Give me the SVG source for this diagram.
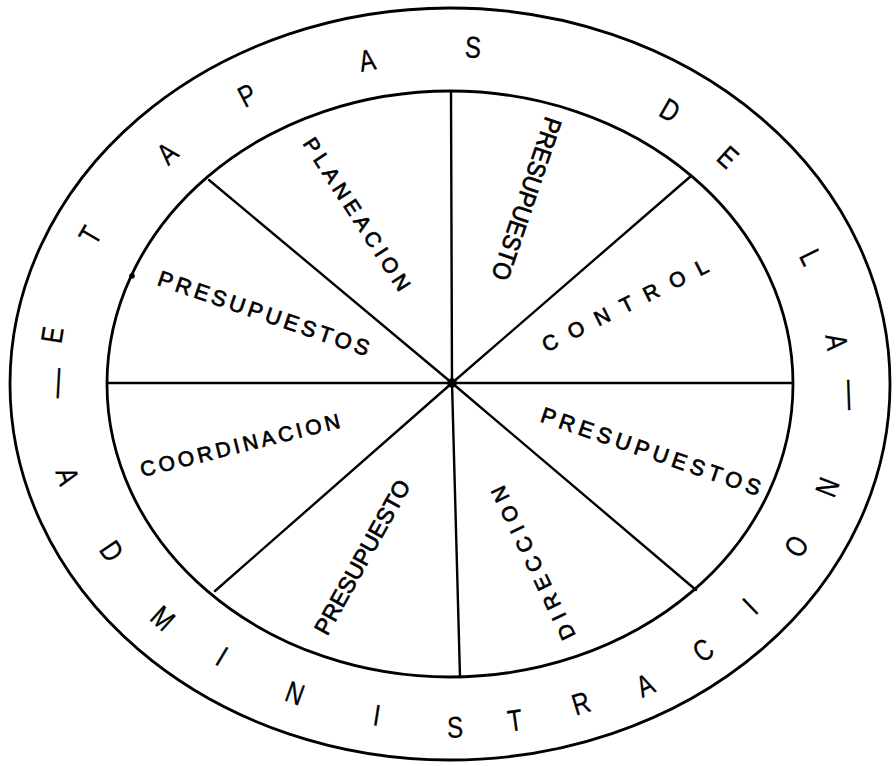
<svg xmlns="http://www.w3.org/2000/svg" width="896" height="766" viewBox="0 0 896 766">
<style>
  .ring { fill: none; stroke: #000; stroke-width: 2.8; }
  .spoke { stroke: #000; stroke-width: 2.4; stroke-linecap: round; }
  .o { font-family: "Liberation Sans", Arial, sans-serif; font-size: 30px; fill: #000; stroke: #000; stroke-width: 0.3; text-anchor: middle; }
  .l { font-family: "Liberation Sans", Arial, sans-serif; fill: #000; stroke: #000; stroke-width: 0.7; text-anchor: middle; }
</style>
<rect width="896" height="766" fill="#fff"/>
<g id="rings">
  <ellipse class="ring" cx="450" cy="384" rx="440" ry="376"/>
  <ellipse class="ring" cx="450" cy="384" rx="343" ry="293"/>
  <circle cx="132" cy="276" r="2.8" fill="#000"/>
</g>
<g id="connectors">
  <line class="spoke" x1="452" y1="383" x2="451" y2="91"/>
  <line class="spoke" x1="452" y1="383" x2="460" y2="677"/>
  <line class="spoke" x1="452" y1="383" x2="107" y2="383"/>
  <line class="spoke" x1="452" y1="383" x2="793" y2="383"/>
  <line class="spoke" x1="452" y1="383" x2="209" y2="180"/>
  <line class="spoke" x1="452" y1="383" x2="691" y2="176"/>
  <line class="spoke" x1="452" y1="383" x2="215" y2="591"/>
  <line class="spoke" x1="452" y1="383" x2="696" y2="590"/>
  <circle cx="452" cy="383" r="4.8" fill="#000"/>
</g>
<g id="outer-title">
  <g transform="translate(57,383) rotate(-87)"><text class="o" font-size="34" y="9">—</text></g>
  <g transform="translate(52,335) rotate(-81) scale(0.8,1)"><text class="o" y="10.7">E</text></g>
  <g transform="translate(90,235) rotate(-60) scale(0.8,1)"><text class="o" y="10.7">T</text></g>
  <g transform="translate(167,153) rotate(-42) scale(0.8,1)"><text class="o" y="10.7">A</text></g>
  <g transform="translate(247,95) rotate(-27) scale(0.8,1)"><text class="o" y="10.7">P</text></g>
  <g transform="translate(367,60) rotate(-11) scale(0.8,1)"><text class="o" y="10.7">A</text></g>
  <g transform="translate(473,47) rotate(3) scale(0.8,1)"><text class="o" y="10.7">S</text></g>
  <g transform="translate(670,110) rotate(30) scale(0.8,1)"><text class="o" y="10.7">D</text></g>
  <g transform="translate(728,157) rotate(42) scale(0.8,1)"><text class="o" y="10.7">E</text></g>
  <g transform="translate(811,257) rotate(64) scale(0.8,1)"><text class="o" y="10.7">L</text></g>
  <g transform="translate(837,342) rotate(82) scale(0.8,1)"><text class="o" y="10.7">A</text></g>
  <g transform="translate(848,395) rotate(88)"><text class="o" font-size="26" y="7">—</text></g>
  <g transform="translate(68,476) rotate(72) scale(0.8,1)"><text class="o" y="10.7">A</text></g>
  <g transform="translate(112,551) rotate(56) scale(0.8,1)"><text class="o" y="10.7">D</text></g>
  <g transform="translate(163,618) rotate(42) scale(0.8,1)"><text class="o" y="10.7">M</text></g>
  <g transform="translate(222,656) rotate(31) scale(0.8,1)"><text class="o" y="10.7">I</text></g>
  <g transform="translate(295,693) rotate(20) scale(0.8,1)"><text class="o" y="10.7">N</text></g>
  <g transform="translate(377,715) rotate(9) scale(0.8,1)"><text class="o" y="10.7">I</text></g>
  <g transform="translate(455,727) rotate(-1) scale(0.8,1)"><text class="o" y="10.7">S</text></g>
  <g transform="translate(515,720) rotate(-8) scale(0.8,1)"><text class="o" y="10.7">T</text></g>
  <g transform="translate(581,703) rotate(-17) scale(0.8,1)"><text class="o" y="10.7">R</text></g>
  <g transform="translate(645,685) rotate(-25) scale(0.8,1)"><text class="o" y="10.7">A</text></g>
  <g transform="translate(703,650) rotate(-35) scale(0.8,1)"><text class="o" y="10.7">C</text></g>
  <g transform="translate(750,606) rotate(-44) scale(0.8,1)"><text class="o" y="10.7">I</text></g>
  <g transform="translate(796,546) rotate(-57) scale(0.8,1)"><text class="o" y="10.7">O</text></g>
  <g transform="translate(827,487) rotate(-69) scale(0.8,1)"><text class="o" y="10.7">N</text></g>
</g>
<g id="planeacion" transform="translate(357,214) rotate(57)">
  <text class="l" font-size="21" y="7.5" textLength="178" lengthAdjust="spacing">PLANEACION</text>
</g>
<g id="presupuesto-top" transform="translate(527,199) rotate(108.7)">
  <text class="l" font-size="25" y="9" textLength="170" lengthAdjust="spacingAndGlyphs">PRESUPUESTO</text>
</g>
<g id="control" transform="translate(625,305) rotate(-26.4)">
  <text class="l" font-size="21" y="7.5" textLength="183" lengthAdjust="spacing">CONTROL</text>
</g>
<g id="presupuestos-right" transform="translate(651,451) rotate(18.9)">
  <text class="l" font-size="22" y="8" textLength="231" lengthAdjust="spacing">PRESUPUESTOS</text>
</g>
<g id="direccion" transform="translate(533,563) rotate(-115.6)">
  <text class="l" font-size="21" y="7.5" textLength="168" lengthAdjust="spacing">DIRECCION</text>
</g>
<g id="presupuesto-bottom" transform="translate(362,557) rotate(-61)">
  <text class="l" font-size="23" y="8.3" textLength="173" lengthAdjust="spacingAndGlyphs">PRESUPUESTO</text>
</g>
<g id="coordinacion" transform="translate(240,445) rotate(-14)">
  <text class="l" font-size="21" y="7.5" textLength="205" lengthAdjust="spacing">COORDINACION</text>
</g>
<g id="presupuestos-left" transform="translate(264,313) rotate(18.8)">
  <text class="l" font-size="22" y="8" textLength="222" lengthAdjust="spacing">PRESUPUESTOS</text>
</g>
</svg>
